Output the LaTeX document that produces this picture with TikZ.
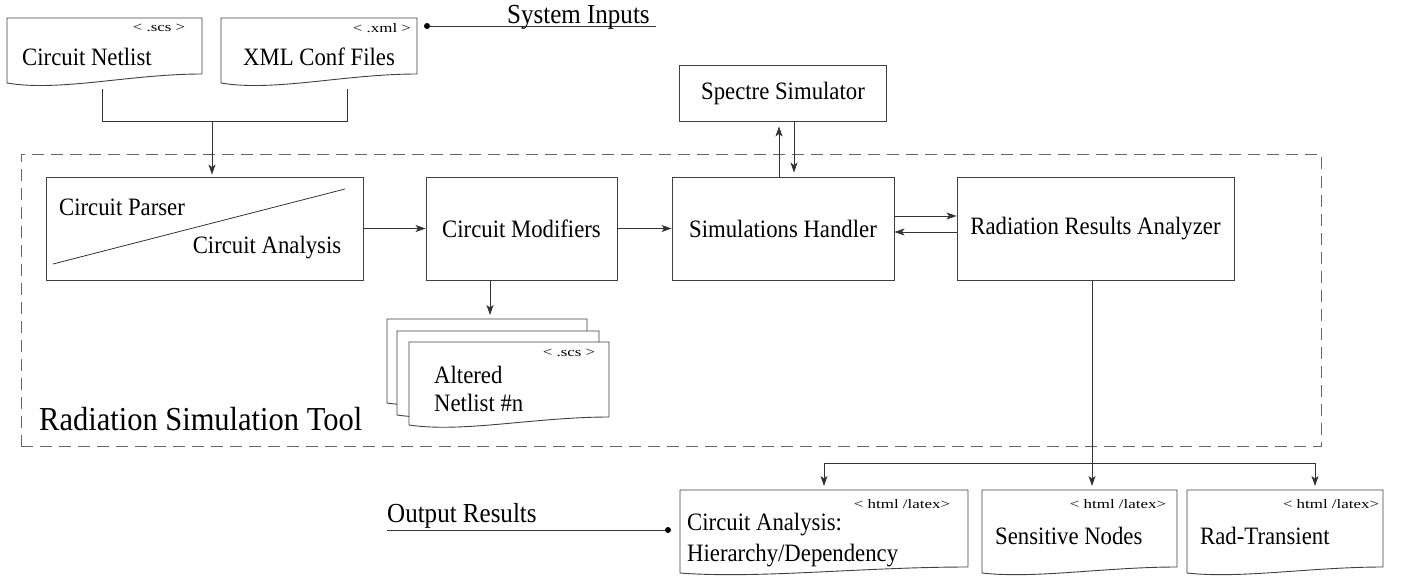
\documentclass[tikz,border=0pt]{standalone}
\usepackage{fontspec}
\setmainfont{Liberation Serif}[FakeStretch=0.91]
\newfontfamily\tagfont{Liberation Serif}[FakeStretch=1.3]
\usetikzlibrary{arrows.meta,calc}

\newcommand\docpath[2]{%
 \draw[docline] (#1.south west) -- (#1.north west) -- (#1.north east) -- ($(#1.south east)+(0,-#2)$)
   .. controls ($(#1.south west)!0.63!(#1.south east)+(0,-#2)$) and ($(#1.south west)!0.27!(#1.south east)+(0,#2)$)
   .. (#1.south west) -- cycle;}

\begin{document}
\begin{tikzpicture}[x=1pt,y=-1pt, font=\fontsize{25}{28}\selectfont,
 blk/.style={draw=black!75, line width=0.9pt, inner sep=0pt},
 docn/.style={inner sep=0pt, outer sep=0pt},
 docline/.style={draw=black!75, line width=0.9pt, fill=white},
 conn/.style={draw=black!80, line width=0.8pt},
 arr/.style={conn, -{Stealth[length=10pt,width=7pt,inset=2.5pt]}},
 tag/.style={font=\tagfont\fontsize{13}{15}\selectfont, inner sep=0pt},
 lbl/.style={inner sep=0pt}]
\useasboundingbox (0,0) rectangle (1412,587);

% dashed frame
\node[draw=black!60, dash pattern=on 12pt off 7pt, line width=0.8pt, minimum width=1300pt, minimum height=292pt, inner sep=0pt] (tool) at (671,300) {};
\node[lbl, anchor=base west, font=\fontsize{33.5}{38}\selectfont] (rst) at (39,430) {Radiation Simulation Tool};

% main boxes
\node[blk, minimum width=317, minimum height=103] (parser) at (204.5,228.5) {};
\draw[conn] (53,264) -- (345,189);
\node[lbl] (cp) at (122,207) {Circuit Parser};
\node[lbl] (ca) at (267,248) {Circuit Analysis};
\node[blk, minimum width=191, minimum height=103] (mod) at (521.5,228.5) {Circuit Modifiers};
\node[blk, minimum width=222, minimum height=103] (sim) at (783,228.5) {Simulations Handler};
\node[blk, minimum width=277, minimum height=103] (rra) at (1095.5,228.5) {Radiation Results Analyzer};
\node[blk, minimum width=207, minimum height=56] (spec) at (783,93) {Spectre Simulator};

% input documents
\node[docn, minimum width=195, minimum height=65] (netlist) at (104.5,50.5) {};
\docpath{netlist}{9}
\node[tag] (nltag) at (159,28) {< .scs >};
\node[lbl, anchor=base west] (nltxt) at (22,65) {Circuit Netlist};
\node[docn, minimum width=196, minimum height=65] (xml) at (319,50.5) {};
\docpath{xml}{9}
\node[tag] (xmltag) at (382,28) {< .xml >};
\node[lbl, anchor=base west] (xmltxt) at (243,65) {XML Conf Files};

% system inputs
\coordinate (sysin) at (427,26);
\coordinate (sysend) at (656,26);
\draw[conn] (sysin) -- (sysend);
\fill[black] (sysin) circle (3pt);
\node[lbl, anchor=base west, font=\fontsize{27.5}{30}\selectfont] (systxt) at (507,23) {System Inputs};

% input connectors
\coordinate (nl) at (102,89);
\coordinate (xl) at (347,89);
\coordinate (join) at (212,121);
\draw[conn] (nl) |- (xl |- join) -- (xl);
\draw[arr, shorten >=2pt] (join) -- (join |- parser.north);

% stacked altered netlists
\node[docn, minimum width=200, minimum height=84] (back) at (487,361) {};
\docpath{back}{8}
\node[docn, minimum width=202, minimum height=84] (middle) at (498,373) {};
\docpath{middle}{8}
\node[docn, minimum width=200, minimum height=83] (front) at (509,383.5) {};
\docpath{front}{8}
\node[tag] (ftag) at (569,353) {< .scs >};
\node[lbl, anchor=base west, align=left, font=\fontsize{25}{28}\selectfont] (ftxt) at (434,411) {Altered\\Netlist \#n};

% main connectors
\draw[arr] (parser.east) -- (mod.west);
\draw[arr] (mod.east) -- (sim.west);
\draw[arr] ($(sim.east)+(0,-12.5)$) -- ($(rra.west)+(0,-12.5)$);
\draw[arr] ($(rra.west)+(0,3.5)$) -- ($(sim.east)+(0,3.5)$);
\draw[arr, shorten >=5pt] ($(sim.north)+(-4,0)$) -- ($(spec.south)+(-4,0)$);
\draw[arr, shorten >=4pt] ($(spec.south)+(11,0)$) -- ($(sim.north)+(11,0)$);
\draw[arr, shorten >=4pt] ($(back.north |- mod.south)+(3,0)$) -- ($(back.north)+(3,0)$);

% output documents
\node[docn, minimum width=288, minimum height=83] (doc1) at (824,531.5) {};
\docpath{doc1}{6}
\node[tag] (d1tag) at (902,504) {< html /latex>};
\node[lbl, anchor=base west, align=left, font=\fontsize{25}{31}\selectfont] (d1txt) at (687,561) {Circuit Analysis:\\Hierarchy/Dependency};
\node[docn, minimum width=195, minimum height=83] (doc2) at (1079.5,531.5) {};
\docpath{doc2}{6}
\node[tag] (d2tag) at (1118,504) {< html /latex>};
\node[lbl, anchor=base west] (d2txt) at (995,544) {Sensitive Nodes};
\node[docn, minimum width=196, minimum height=83] (doc3) at (1285,531.5) {};
\docpath{doc3}{6}
\node[tag] (d3tag) at (1331,504) {< html /latex>};
\node[lbl, anchor=base west] (d3txt) at (1200,544) {Rad-Transient};

% output connectors
\coordinate (split) at (1092,463);
\coordinate (d3in) at (1315,490);
\draw[arr, shorten >=4pt] (split |- rra.south) -- (split |- doc2.north);
\draw[arr, shorten >=4pt] (split) -| (doc1.north);
\draw[arr, shorten >=4pt] (split) -| (d3in);

% output results
\node[lbl, anchor=base west, font=\fontsize{27.5}{30}\selectfont] (outres) at (387,522) {Output Results};
\coordinate (outstart) at (387,530);
\coordinate (outdot) at (668,530);
\draw[conn] (outstart) -- (outdot);
\fill[black] (outdot) circle (3pt);
\end{tikzpicture}
\end{document}
